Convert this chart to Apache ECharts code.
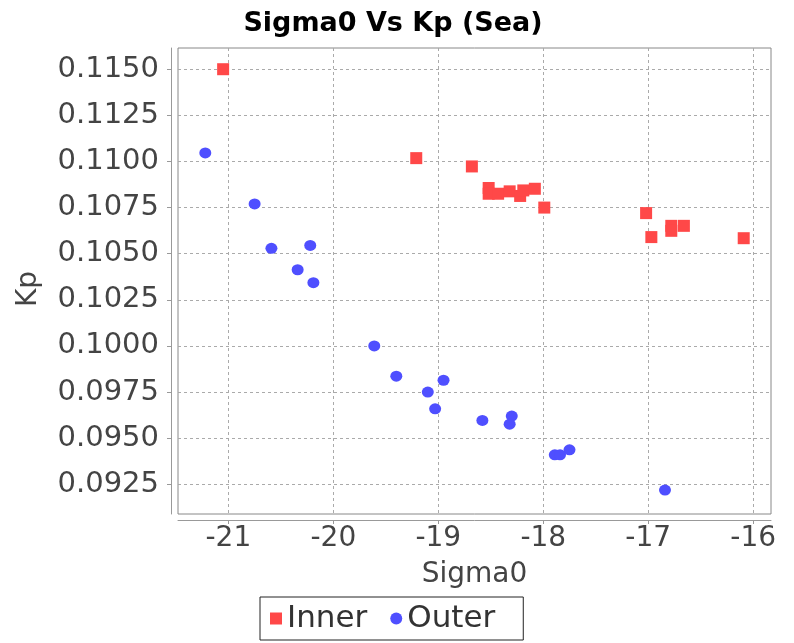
<!DOCTYPE html>
<html>
<head>
<meta charset="utf-8">
<script src="https://cdn.jsdelivr.net/npm/echarts@6/dist/echarts.min.js"></script>
<style>html,body{margin:0;padding:0;background:#fff;}#c{width:794px;height:643px;}</style>
</head>
<body>
<div id="c"></div>
<script>
const innerX = [-21.05, -19.21, -18.68, -18.52, -18.52, -18.43, -18.32, -18.22, -18.19, -18.08, -17.99, -17.02, -16.97, -16.78, -16.78, -16.66, -16.09];
const innerY = [0.1150, 0.11018, 0.10973, 0.10856, 0.10825, 0.10825, 0.10838, 0.10813, 0.10843, 0.10852, 0.1075, 0.1072, 0.1059, 0.10651, 0.10624, 0.10651, 0.10584];
const outerX = [-21.22, -20.75, -20.59, -20.22, -20.34, -20.19, -19.61, -19.40, -18.95, -19.10, -19.03, -18.58, -18.30, -18.32, -17.89, -17.84, -17.75, -16.84];
const outerY = [0.11046, 0.1077, 0.10529, 0.10545, 0.10413, 0.10343, 0.1000, 0.09836, 0.09814, 0.0975, 0.09659, 0.09596, 0.0962, 0.09576, 0.0941, 0.0941, 0.09437, 0.09219];
const xTicks = [-21, -20, -19, -18, -17, -16];
const yTicks = [0.0925, 0.0950, 0.0975, 0.1000, 0.1025, 0.1050, 0.1075, 0.1100, 0.1125, 0.1150];
const seriesNames = ['Inner', 'Outer'];

const zip = (xs, ys) => xs.map((x, i) => [x, ys[i]]);
const font = 'DejaVu Sans';
const chart = echarts.init(document.getElementById('c'));
chart.setOption({
  animation: false,
  backgroundColor: '#fff',
  title: {
    text: 'Sigma0 Vs Kp (Sea)',
    left: 388, top: 5, textAlign: 'center',
    textStyle: { fontFamily: font, fontSize: 27, fontWeight: 'bold', color: '#000' }
  },
  grid: {
    left: 178, right: 23, top: 48, bottom: 129,
    show: true, borderColor: '#888', borderWidth: 1, backgroundColor: '#fff'
  },
  legend: {
    data: [
      { name: seriesNames[0], icon: 'rect' },
      { name: seriesNames[1], icon: 'circle' }
    ],
    left: 260, top: 597,
    borderColor: '#222', borderWidth: 1, padding: [6, 28, 6, 10],
    itemWidth: 12, itemHeight: 12, itemGap: 23,
    textStyle: { fontFamily: font, fontSize: 31, color: '#333' }
  },
  xAxis: {
    type: 'value', min: -21.48, max: -15.83,
    offset: 6,
    name: 'Sigma0', nameLocation: 'middle', nameGap: 41,
    nameTextStyle: { fontFamily: font, fontSize: 28, color: '#444' },
    axisLine: { show: true, lineStyle: { color: '#999' } },
    axisTick: { show: true, length: 4, customValues: xTicks, lineStyle: { color: '#999' } },
    axisLabel: { customValues: xTicks, margin: 5, fontFamily: font, fontSize: 28, color: '#444' },
    splitLine: { show: true, lineStyle: { color: '#aaa', type: [3, 3] } }
  },
  yAxis: {
    type: 'value', min: 0.09089, max: 0.11615,
    offset: 7,
    name: 'Kp', nameLocation: 'middle', nameGap: 128,
    nameTextStyle: { fontFamily: font, fontSize: 28, color: '#444', padding: [0, 16, 0, 0] },
    axisLine: { show: true, lineStyle: { color: '#999' } },
    axisTick: { show: true, length: 4, customValues: yTicks, lineStyle: { color: '#999' } },
    axisLabel: { customValues: yTicks, margin: 12, fontFamily: font, fontSize: 29, color: '#444',
      formatter: v => v.toFixed(4) },
    splitLine: { show: true, lineStyle: { color: '#aaa', type: [3, 3] } }
  },
  series: [
    { name: seriesNames[0], type: 'scatter', symbol: 'rect', symbolSize: 12,
      itemStyle: { color: '#ff4848', opacity: 1 }, data: zip(innerX, innerY) },
    { name: seriesNames[1], type: 'scatter', symbol: 'circle', symbolSize: [12, 11],
      itemStyle: { color: '#4f4fff', opacity: 1 }, data: zip(outerX, outerY) }
  ]
});
</script>
</body>
</html>
